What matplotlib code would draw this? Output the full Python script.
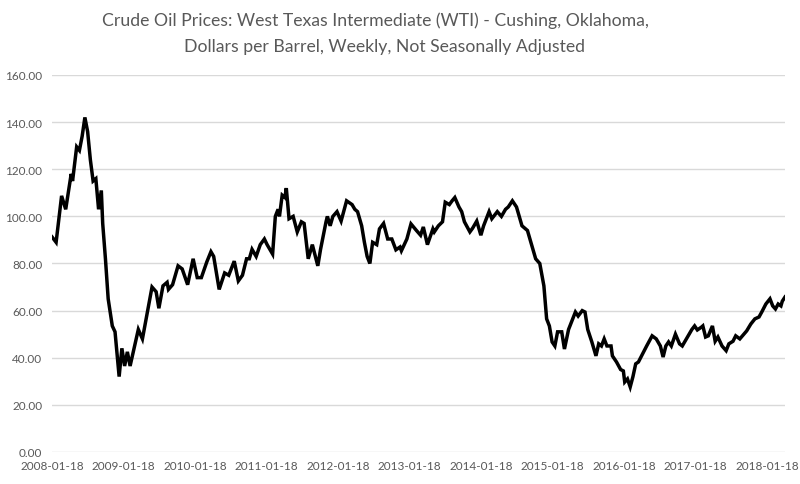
import matplotlib
matplotlib.use("Agg")
import matplotlib.pyplot as plt
import numpy as np
import pandas as pd

# weekly observations, counted in weeks from 2008-01-18
week = [0, 3, 5, 7, 10, 14, 15, 18, 20, 22, 24, 26, 28, 30, 32, 34, 36, 37, 39, 41,
        44, 46, 49, 51, 53, 55, 57, 63, 66, 73, 76, 78, 81, 84, 85, 88, 92, 95, 99, 103,
        106, 109, 113, 116, 118, 122, 126, 129, 133, 136, 139, 142, 144, 146, 149, 152, 155, 157, 161, 163,
        165, 166, 168, 170, 171, 173, 176, 179, 182, 184, 187, 189, 190, 194, 196, 200, 201, 203, 205, 208,
        211, 215, 219, 221, 223, 226, 228, 230, 232, 234, 237, 239, 242, 245, 248, 251, 254, 255, 259, 262,
        266, 269, 271, 274, 278, 279, 282, 285, 287, 290, 292, 294, 297, 299, 301, 305, 307, 310, 313, 315,
        319, 321, 325, 328, 331, 333, 336, 339, 340, 343, 347, 350, 353, 356, 359, 361, 363, 365, 367, 369,
        372, 374, 377, 380, 382, 384, 387, 389, 391, 394, 397, 399, 401, 403, 405, 408, 409, 412, 415, 417,
        418, 420, 422, 424, 426, 428, 431, 434, 438, 441, 444, 446, 448, 450, 452, 455, 458, 460, 463, 467,
        469, 471, 474, 475, 477, 479, 482, 484, 486, 489, 492, 494, 497, 499, 502, 505, 507, 510, 513, 516,
        518, 521, 524, 526, 528, 530, 532, 533, 535]

price = [91.3, 89.0, 99.0, 108.7, 103.0, 118.0, 115.0, 129.5, 128.0, 134.0, 142.0, 136.0, 124.0, 115.0, 116.0, 103.0, 111.0, 97.0, 82.0, 65.0,
         53.5, 51.0, 32.0, 44.0, 36.5, 42.5, 36.5, 52.0, 48.0, 70.0, 68.0, 61.0, 70.5, 72.0, 69.0, 71.0, 79.0, 77.7, 71.0, 82.0,
         74.0, 74.0, 80.7, 85.0, 83.0, 69.0, 76.0, 75.0, 81.0, 72.6, 75.0, 82.0, 82.0, 86.0, 83.0, 88.0, 90.4, 88.0, 84.0, 100.0,
         103.0, 100.0, 109.0, 108.0, 112.0, 99.0, 100.0, 93.4, 97.7, 97.0, 82.0, 86.0, 88.0, 79.0, 86.0, 97.7, 100.0, 96.0, 100.0, 102.0,
         98.0, 106.6, 105.0, 103.0, 102.0, 96.0, 89.0, 83.0, 80.0, 89.0, 88.0, 94.7, 97.0, 90.4, 90.4, 85.8, 87.0, 85.4, 90.4, 96.8,
         94.0, 92.0, 95.5, 88.0, 94.7, 93.4, 96.0, 97.7, 106.0, 105.0, 106.6, 108.0, 104.0, 102.0, 97.7, 93.4, 95.0, 98.0, 92.0, 96.0,
         102.0, 99.0, 102.0, 100.0, 103.0, 104.0, 106.6, 104.0, 102.0, 96.0, 94.0, 88.0, 82.0, 80.0, 70.5, 56.5, 53.5, 46.7, 45.0, 51.0,
         51.0, 43.7, 52.0, 56.5, 59.4, 57.7, 60.0, 59.4, 52.0, 46.7, 40.8, 45.9, 45.0, 48.0, 45.0, 45.0, 40.8, 38.2, 35.0, 34.4,
         29.7, 31.0, 27.6, 32.0, 37.4, 38.2, 41.6, 45.0, 49.3, 48.0, 45.0, 40.3, 45.0, 46.7, 45.0, 50.0, 45.9, 45.0, 48.0, 52.0,
         53.5, 51.8, 53.0, 53.5, 48.8, 49.3, 53.5, 47.0, 48.8, 45.0, 43.0, 45.9, 47.0, 49.3, 48.0, 50.0, 51.4, 54.3, 56.5, 57.3,
         59.4, 62.8, 65.0, 62.0, 60.7, 62.8, 62.0, 64.0, 65.8]

tick_dates = ["2008-01-18", "2009-01-18", "2010-01-18", "2011-01-18", "2012-01-18", "2013-01-18",
              "2014-01-18", "2015-01-18", "2016-01-18", "2017-01-18", "2018-01-18"]
y_ticks = [0, 20, 40, 60, 80, 100, 120, 140, 160]

start = pd.Timestamp("2008-01-18")
dates = start + pd.to_timedelta(np.array(week) * 7, unit="D")

plt.rcParams['font.family'] = ['Lato', 'DejaVu Sans']
grey = "#595959"

fig = plt.figure(figsize=(8, 4.85), dpi=100)
ax = fig.add_axes([0.065, 0.066, 0.9163, 0.7773])

ax.plot(dates, price, color="black", linewidth=2.5, solid_joinstyle="miter")

ax.set_ylim(0, 160)
ax.set_yticks(y_ticks)
ax.set_yticklabels(["%.2f" % v for v in y_ticks])
ax.set_xlim(start, start + pd.Timedelta(days=535 * 7))
ax.set_xticks(pd.to_datetime(tick_dates))
ax.set_xticklabels(tick_dates)

ax.grid(axis="y", color="#d9d9d9", linewidth=1)
ax.set_axisbelow(True)
for s in ax.spines.values():
    s.set_visible(False)
ax.tick_params(length=0, labelsize=8.5, colors=grey)
ax.tick_params(axis="y", pad=7)
ax.tick_params(axis="x", pad=6)

fig.text(0.469, 0.958, "Crude Oil Prices: West Texas Intermediate (WTI) - Cushing, Oklahoma,",
         ha="center", va="center", fontsize=12.7, color=grey)
fig.text(0.481, 0.903, "Dollars per Barrel, Weekly, Not Seasonally Adjusted",
         ha="center", va="center", fontsize=12.7, color=grey)

fig.savefig("out.png", dpi=100, facecolor="white")
